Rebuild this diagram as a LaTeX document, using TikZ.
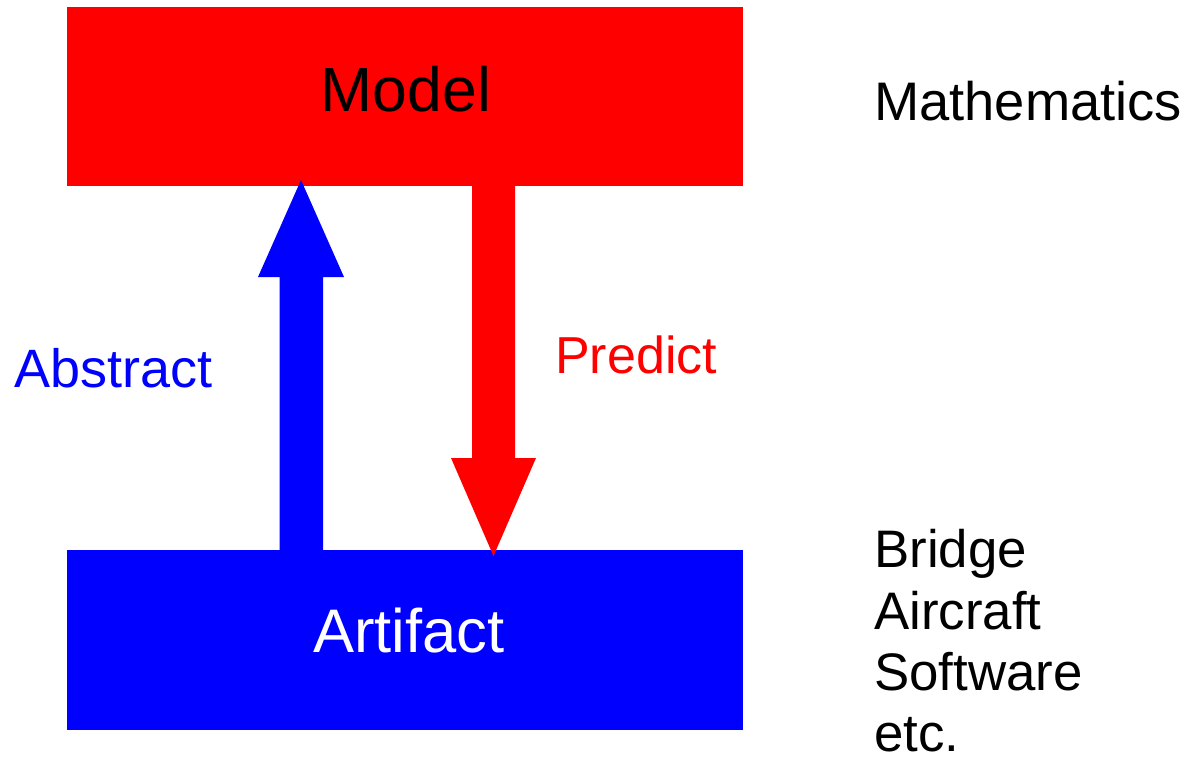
\documentclass[tikz,border=0pt]{standalone}
\usepackage{fontspec}
\usetikzlibrary{calc}
\setmainfont{Liberation Sans}
\definecolor{modelred}{HTML}{FF0000}
\definecolor{artblue}{HTML}{0000FF}
\newcommand{\fsz}[1]{\fontsize{#1}{#1}\selectfont}
\begin{document}
\begin{tikzpicture}[x=1pt,y=-1pt,
  block/.style={rectangle, inner sep=0pt, minimum width=676pt, draw=none},
  lbl/.style={inner sep=0pt, anchor=base},
  side/.style={inner sep=0pt, anchor=base west, text=black}]
  \useasboundingbox (0,0) rectangle (1188,763);

  % the two layers
  \node[block, fill=modelred, minimum height=179pt] (model) at (405,96.5) {};
  \node[block, fill=artblue, minimum height=180pt] (artifact) at (405,640) {};

  \node[lbl, text=black] (modeltxt) at (406,111) {\fsz{62.5}Model};
  \node[lbl, text=white] (arttxt) at (409,652) {\fsz{61.5}Artifact};

  % abstraction arrow (artifact -> model)
  \coordinate (abase) at (301,550);
  \coordinate (atip) at (301,180);
  \fill[artblue] ($(abase)+(-21.5,0)$) |- (258,277) -- (atip) -- (344,277) -| ($(abase)+(22,0)$) -- cycle;

  % prediction arrow (model -> artifact)
  \coordinate (pbase) at (493.5,186);
  \coordinate (ptip) at (493.5,556);
  \fill[modelred] ($(pbase)+(-21.5,0)$) |- (451,458) -- (ptip) -- (536,458) -| ($(pbase)+(21.5,0)$) -- cycle;

  \node[side, text=artblue] (abstxt) at (14,387) {\fsz{54}Abstract};
  \node[side, text=modelred] (predtxt) at (555,373) {\fsz{52}Predict};

  % what each layer stands for
  \node[side] (math) at (874,120) {\fsz{54.3}Mathematics};
  \node[side] (ex1) at (874,567) {\fsz{52.8}Bridge};
  \node[side] (ex2) at (874,629) {\fsz{52.8}Aircraft};
  \node[side] (ex3) at (874,690) {\fsz{52.8}Software};
  \node[side] (ex4) at (874,751) {\fsz{52.8}etc.};
\end{tikzpicture}
\end{document}
